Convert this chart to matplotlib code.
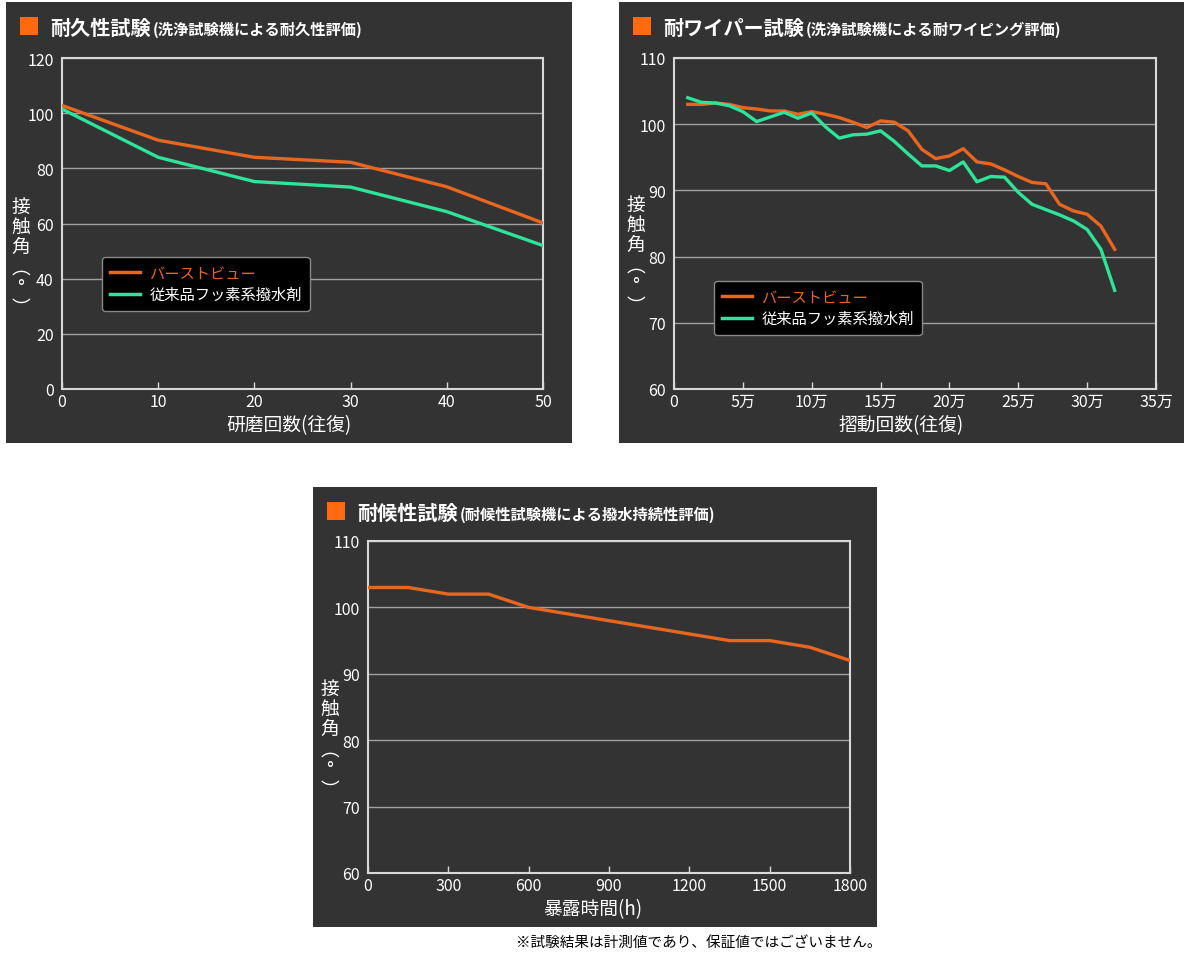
import matplotlib
matplotlib.use("Agg")
import matplotlib.pyplot as plt
from matplotlib.patches import Rectangle

plt.rcParams['font.family'] = ['Noto Sans CJK JP', 'DejaVu Sans']

# durability test (washing machine)
dur_x = [0, 10, 20, 30, 40, 50]
dur_burst = [102.8, 90.2, 84.0, 82.2, 73.3, 60.2]
dur_conv = [101.5, 84.0, 75.2, 73.2, 64.3, 52.0]

# wiper test (units of 万 cycles)
wip_x = [1, 2, 3, 4, 5, 6, 7, 8, 9, 10, 11, 12, 13, 14, 15, 16,
         17, 18, 19, 20, 21, 22, 23, 24, 25, 26, 27, 28, 29, 30, 31, 32]
wip_burst = [103.0, 103.0, 103.2, 103.0, 102.5, 102.3, 102.0, 102.0, 101.5, 101.9,
             101.5, 101.0, 100.3, 99.5, 100.5, 100.3, 99.0, 96.2, 94.8, 95.2,
             96.3, 94.3, 94.0, 93.1, 92.1, 91.2, 91.0, 87.9, 86.9, 86.4, 84.6, 81.1]
wip_conv = [104.0, 103.3, 103.2, 102.8, 101.9, 100.4, 101.1, 101.8, 100.9, 101.7,
            99.6, 97.9, 98.4, 98.5, 99.0, 97.4, 95.5, 93.7, 93.7, 93.0,
            94.3, 91.3, 92.1, 92.0, 89.7, 87.9, 87.1, 86.3, 85.4, 84.1, 81.1, 74.9]
wip_ticks = [0, 5, 10, 15, 20, 25, 30, 35]
wip_ticklabels = ['0', '5万', '10万', '15万', '20万', '25万', '30万', '35万']

# weathering test
wea_x = [0, 150, 300, 450, 600, 750, 900, 1050, 1200, 1350, 1500, 1650, 1800]
wea_burst = [103, 103, 102, 102, 100, 99, 98, 97, 96, 95, 95, 94, 92]

W, H = 1190, 954
PANEL = '#333333'
ORANGE = '#e9661f'
GREEN = '#2ee39a'
SQUARE = '#ff6a10'
FRAME = '#d8d8d8'
GRID = '#a0a0a0'
NUM_FONT = ['Liberation Sans Narrow', 'Noto Sans CJK JP']

fig = plt.figure(figsize=(W / 100, H / 100), dpi=100)
fig.patch.set_facecolor('white')


def rect(x0, y0, x1, y1):
    return [x0 / W, 1 - y1 / H, (x1 - x0) / W, (y1 - y0) / H]


def panel(x0, y0, x1, y1, title, sub):
    fig.patches.append(Rectangle((x0 / W, 1 - y1 / H), (x1 - x0) / W, (y1 - y0) / H,
                                 transform=fig.transFigure, facecolor=PANEL,
                                 edgecolor='none', zorder=-2))
    fig.patches.append(Rectangle(((x0 + 14) / W, 1 - (y0 + 33) / H), 18 / W, 18 / H,
                                 transform=fig.transFigure, facecolor=SQUARE,
                                 edgecolor='none', zorder=-1))
    t = fig.text((x0 + 44) / W, 1 - (y0 + 25) / H, title, color='white',
                 fontsize=14.5, fontweight='bold', va='center', ha='left')
    fig.canvas.draw()
    bb = t.get_window_extent()
    fig.text(bb.x1 / W + 2 / W, 1 - (y0 + 27) / H, sub, color='white',
             fontsize=11, fontweight='bold', va='center', ha='left')


def axes(box, xlim, ylim, yticks, xticks, xticklabels, xlabel, ylabel_xy, xlabel_xy):
    ax = fig.add_axes(rect(*box))
    ax.set_facecolor(PANEL)
    ax.set_xlim(*xlim)
    ax.set_ylim(*ylim)
    ax.set_yticks(yticks)
    ax.set_xticks(xticks)
    ax.set_xticklabels(xticklabels, family=NUM_FONT)
    for lab in ax.get_yticklabels():
        lab.set_family(NUM_FONT)
    for s in ax.spines.values():
        s.set_color(FRAME)
        s.set_linewidth(1.5)
    ax.grid(axis='y', color=GRID, linewidth=1.0)
    ax.set_axisbelow(True)
    ax.tick_params(axis='x', direction='in', length=5, width=1, color=FRAME,
                   labelcolor='white', labelsize=11.5, pad=3)
    ax.tick_params(axis='y', length=0, labelcolor='white', labelsize=11.5, pad=6)
    fig.text(xlabel_xy[0] / W, 1 - xlabel_xy[1] / H, xlabel, color='white',
             fontsize=13.5, ha='center', va='center')
    fig.text(ylabel_xy[0] / W, 1 - ylabel_xy[1] / H, '接\n触\n角\n︵\n°\n︶', color='white',
             fontsize=13.5, ha='center', va='center', linespacing=0.95)
    return ax


def legend(ax, anchor):
    leg = ax.legend(loc='upper left', bbox_to_anchor=(anchor[0] / W, 1 - anchor[1] / H),
                    bbox_transform=fig.transFigure, frameon=True, fancybox=True,
                    facecolor='black', edgecolor='#888888', framealpha=1.0,
                    fontsize=11, handlelength=2.0, handletextpad=0.6,
                    borderpad=0.5, labelspacing=0.3, borderaxespad=0)
    leg.get_frame().set_linewidth(1.0)
    leg.get_texts()[0].set_color(ORANGE)
    leg.get_texts()[1].set_color('white')
    for h in leg.get_lines():
        h.set_linewidth(2.5)


# panel 1
panel(6, 3, 572, 444, '耐久性試験', '(洗浄試験機による耐久性評価)')
ax1 = axes((62, 59, 543, 390), (0, 50), (0, 120), range(0, 121, 20),
           dur_x, [str(v) for v in dur_x], '研磨回数(往復)', (21, 258), (289, 426))
ax1.plot(dur_x, dur_burst, color=ORANGE, linewidth=2.4, label='バーストビュー', zorder=3)
ax1.plot(dur_x, dur_conv, color=GREEN, linewidth=2.4, label='従来品フッ素系撥水剤', zorder=3)
legend(ax1, (102, 258))

# panel 2
panel(619, 3, 1184, 444, '耐ワイパー試験', '(洗浄試験機による耐ワイピング評価)')
ax2 = axes((674, 59, 1156, 390), (0, 35), (60, 110), range(60, 111, 10),
           wip_ticks, wip_ticklabels, '摺動回数(往復)', (636, 256), (901, 426))
ax2.plot(wip_x, wip_burst, color=ORANGE, linewidth=2.4, label='バーストビュー', zorder=3)
ax2.plot(wip_x, wip_conv, color=GREEN, linewidth=2.4, label='従来品フッ素系撥水剤', zorder=3)
legend(ax2, (714, 282))

# panel 3
panel(313, 488, 877, 928, '耐候性試験', '(耐候性試験機による撥水持続性評価)')
ax3 = axes((368, 542, 850, 874), (0, 1800), (60, 110), range(60, 111, 10),
           range(0, 1801, 300), [str(v) for v in range(0, 1801, 300)],
           '暴露時間(h)', (330, 740), (593, 910))
ax3.plot(wea_x, wea_burst, color=ORANGE, linewidth=2.4, zorder=3)

fig.text(882 / W, 1 - 943 / H, '※試験結果は計測値であり、保証値ではございません。',
         color='black', fontsize=10.5, ha='right', va='center')

fig.savefig('out.png', dpi=100, facecolor='white')
